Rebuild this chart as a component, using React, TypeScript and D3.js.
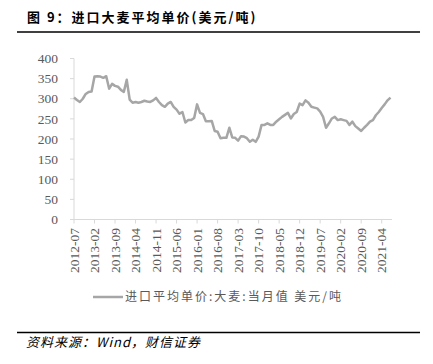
import React from "react";
import * as d3 from "d3";

const startYear = 2012;
const startMonth = 7;
const prices: number[] = [
  303, 297, 292, 300, 312, 317, 318, 355, 356, 355,
  352, 356, 325, 337, 332, 330, 322, 317, 347, 298,
  290, 292, 290, 292, 295, 293, 292, 296, 302, 292,
  284, 280, 288, 292, 280, 273, 263, 267, 241, 247,
  247, 252, 286, 265, 262, 244, 244, 245, 220, 218,
  202, 203, 203, 228, 204, 203, 196, 207, 206, 202,
  193, 198, 193, 206, 235, 235, 239, 235, 235, 243,
  249, 255, 260, 265, 251, 262, 267, 288, 284, 296,
  290, 280, 278, 276, 268, 255, 228, 239, 251, 255,
  247, 249, 247, 245, 235, 243, 232, 226, 220, 228,
  235, 243, 247, 259, 267, 277, 286, 296, 303,
];
const yTicks = [0, 50, 100, 150, 200, 250, 300, 350, 400];
const xTickEvery = 7;
const titleText = "图 9：进口大麦平均单价(美元/吨)";
const legendText = "进口平均单价:大麦:当月值 美元/吨";
const sourceText = "资料来源：Wind，财信证券";

function monthLabel(i: number): string {
  const total = startYear * 12 + (startMonth - 1) + i;
  const y = Math.floor(total / 12);
  const m = (total % 12) + 1;
  return `${y}-${String(m).padStart(2, "0")}`;
}

export default function App() {
  const W = 433;
  const H = 364;
  const x = d3.scaleLinear().domain([0, prices.length - 1]).range([74, 390.5]);
  const y = d3.scaleLinear().domain([0, 400]).range([219.5, 58.5]);
  const line = d3
    .line<number>()
    .x((_, i) => x(i))
    .y((d) => y(d));
  const xTickIdx = d3.range(0, prices.length, xTickEvery);
  const serif = "'Liberation Serif', 'Times New Roman', serif";
  const cjk = "'Noto Sans CJK SC', sans-serif";
  const grey = "#595959";
  const axisCol = "#d9d9d9";

  return (
    <svg
      width={W}
      height={H}
      style={{ position: "absolute", left: 0, top: 0, background: "#fff" }}
    >
      <text
        x={27}
        y={22}
        fontFamily={cjk}
        fontWeight="bold"
        fontSize={13}
        letterSpacing={2}
        fill="#000"
      >
        {titleText}
      </text>
      <line x1={17} x2={420} y1={32} y2={32} stroke="#404040" strokeWidth={2} />

      {/* y axis */}
      <line x1={74} x2={74} y1={y(400)} y2={y(0)} stroke={axisCol} strokeWidth={1} />
      {yTicks.map((t) => (
        <g key={t}>
          <line x1={70} x2={74} y1={y(t)} y2={y(t)} stroke={axisCol} />
          <text
            x={58}
            y={y(t)}
            dy="0.35em"
            textAnchor="end"
            fontFamily={serif}
            fontSize={13.5}
            fill={grey}
          >
            {t}
          </text>
        </g>
      ))}

      {/* x axis */}
      <line x1={74} x2={392} y1={y(0)} y2={y(0)} stroke={axisCol} strokeWidth={1} />
      {xTickIdx.map((i) => (
        <g key={i}>
          <line x1={x(i)} x2={x(i)} y1={y(0)} y2={y(0) + 4} stroke={axisCol} />
          <text
            transform={`translate(${x(i)},${228}) rotate(-90)`}
            dy="0.35em"
            textAnchor="end"
            fontFamily={serif}
            fontSize={13.5}
            fill={grey}
          >
            {monthLabel(i)}
          </text>
        </g>
      ))}

      <path
        d={line(prices) || ""}
        fill="none"
        stroke="#a6a6a6"
        strokeWidth={2.5}
        strokeLinejoin="round"
      />

      {/* legend */}
      <line x1={93} x2={123} y1={297} y2={297} stroke="#a6a6a6" strokeWidth={2.5} />
      <text
        x={125}
        y={297}
        dy="0.35em"
        fontFamily={cjk}
        fontSize={12}
        letterSpacing={2}
        fill={grey}
      >
        {legendText}
      </text>

      <line x1={17} x2={420} y1={332.5} y2={332.5} stroke="#000" strokeWidth={1.3} />
      <text
        x={26}
        y={347}
        fontFamily={cjk}
        fontStyle="italic"
        fontSize={13}
        letterSpacing={1}
        fill="#000"
      >
        {sourceText}
      </text>
    </svg>
  );
}
